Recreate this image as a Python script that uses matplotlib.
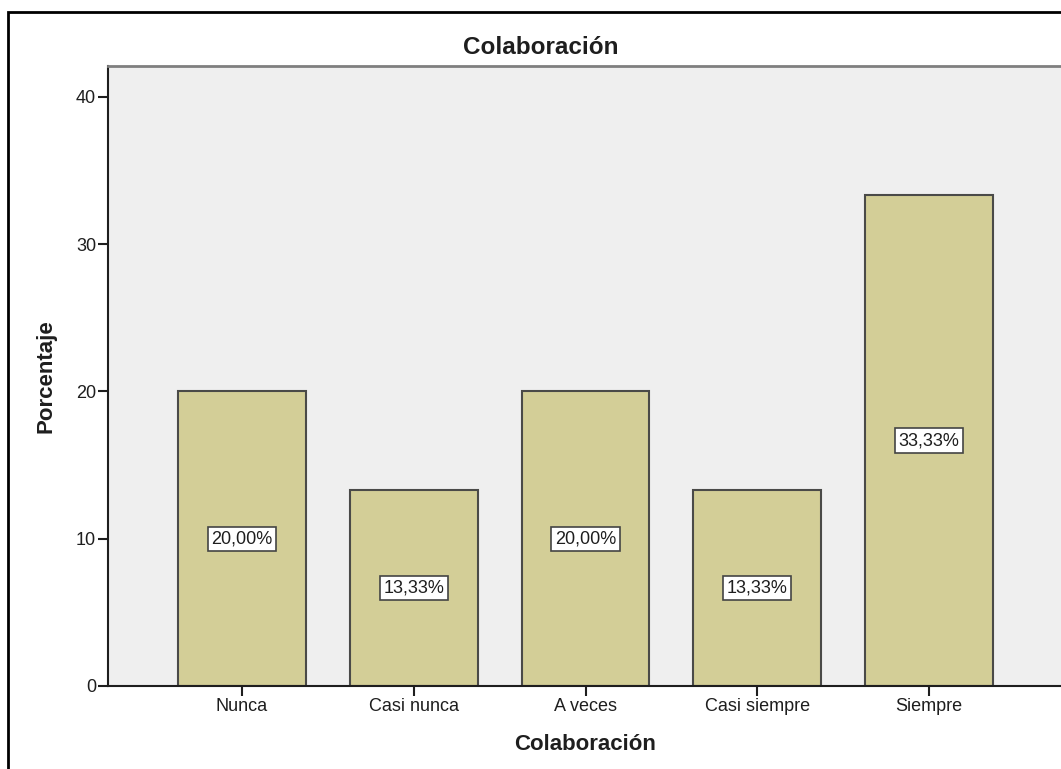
"""Bar chart: Colaboración (SPSS-style percentage bars)."""
import matplotlib
matplotlib.use("Agg")
import matplotlib.pyplot as plt
from matplotlib.patches import Rectangle

plt.rcParams["font.family"] = ["Liberation Sans", "DejaVu Sans"]

CATEGORIES = ["Nunca", "Casi nunca", "A veces", "Casi siempre", "Siempre"]
PERCENTS = [20.00, 13.33, 20.00, 13.33, 33.33]
LABELS = ["20,00%", "13,33%", "20,00%", "13,33%", "33,33%"]
YTICKS = [0, 10, 20, 30, 40]

W, H = 1061, 769
BAR_FILL = "#d3ce97"
BAR_EDGE = "#4a4a48"
BG = "#efefef"
INK = "#1e1e1e"


def main():
    fig = plt.figure(figsize=(W / 100, H / 100), dpi=100)

    # outer frame (cut off at right/bottom like the screenshot)
    fig.patches.append(Rectangle((8 / W, -0.05), 1.2, 1 - 12 / H + 0.05,
                                 transform=fig.transFigure, fill=False,
                                 edgecolor="black", lw=2))

    left, right, top, bottom = 108, 1063, 66, 686
    ax = fig.add_axes([left / W, 1 - bottom / H, (right - left) / W,
                       (bottom - top) / H])
    ax.set_facecolor(BG)

    pos = list(range(len(CATEGORIES)))
    ax.bar(pos, PERCENTS, width=0.745, color=BAR_FILL, edgecolor=BAR_EDGE,
           linewidth=1.5, zorder=2)
    for x, v, lab in zip(pos, PERCENTS, LABELS):
        ax.text(x, v / 2, lab, ha="center", va="center", fontsize=13,
                color=INK, zorder=3,
                bbox=dict(boxstyle="square,pad=0.2", fc="white",
                          ec="#444444", lw=1.2))

    ax.set_xlim(-0.78, len(CATEGORIES) - 1 + 0.78)
    ax.set_ylim(0, 42.1)
    ax.set_yticks(YTICKS)
    ax.set_xticks(pos)
    ax.set_xticklabels(CATEGORIES)
    ax.tick_params(axis="both", labelsize=13, length=7.5, width=1.5,
                   color=INK, labelcolor=INK, pad=1)

    for side in ("left", "bottom"):
        ax.spines[side].set_color(INK)
        ax.spines[side].set_linewidth(1.5)
    ax.spines["top"].set_color("#7f7f7f")
    ax.spines["top"].set_linewidth(2)
    ax.spines["right"].set_visible(False)

    # title is centred on the whole (partly cropped) chart frame
    fig.text(541 / W, 1 - 47 / H, "Colaboración", ha="center", va="center",
             fontsize=17.5, fontweight="bold", color=INK)
    ax.set_xlabel("Colaboración", fontsize=16, fontweight="bold",
                  color=INK, labelpad=14)
    ax.set_ylabel("Porcentaje", fontsize=16, fontweight="bold",
                  color=INK, labelpad=14)

    fig.savefig("out.png", dpi=100)


if __name__ == "__main__":
    main()
